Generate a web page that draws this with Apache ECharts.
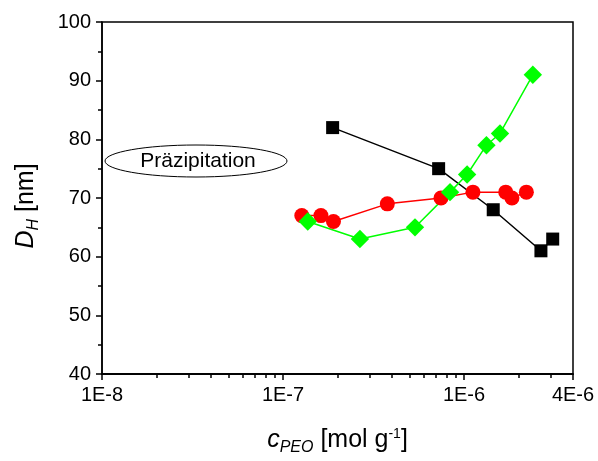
<!DOCTYPE html>
<html>
<head>
<meta charset="utf-8">
<script src="https://cdn.jsdelivr.net/npm/echarts@6/dist/echarts.min.js"></script>
<style>html,body{margin:0;padding:0;background:#fff;}#c{width:598px;height:461px;}</style>
</head>
<body>
<div id="c"></div>
<script>
// Data
var blackX = [1.88e-7, 7.24e-7, 1.45e-6, 2.66e-6, 3.09e-6];
var blackY = [82, 75, 68, 61, 63];
var redX = [1.27e-7, 1.62e-7, 1.90e-7, 3.77e-7, 7.46e-7, 1.12e-6, 1.70e-6, 1.84e-6, 2.21e-6];
var redY = [67, 67, 66, 69, 70, 71, 71, 70, 71];
var greenX = [1.37e-7, 2.66e-7, 5.36e-7, 8.37e-7, 1.04e-6, 1.33e-6, 1.58e-6, 2.40e-6];
var greenY = [66, 63, 65, 71, 74, 79, 81, 91];
var xMajorTicks = [1e-8, 1e-7, 1e-6, 4e-6];
var xMinorTicks = [2e-8,3e-8,4e-8,5e-8,6e-8,7e-8,8e-8,9e-8,2e-7,3e-7,4e-7,5e-7,6e-7,7e-7,8e-7,9e-7,2e-6,3e-6];
var annotationText = 'Präzipitation';

function pairs(xs, ys){ return xs.map(function(x,i){ return [x, ys[i]]; }); }
function fmt(v){
  var e = Math.floor(Math.log10(v) + 1e-9);
  var m = Math.round(v / Math.pow(10, e));
  return m + 'E' + e;
}

var FONT = 'Liberation Sans, Arial, sans-serif';
var chart = echarts.init(document.getElementById('c'), null, {renderer: 'canvas'});
chart.setOption({
  animation: false,
  backgroundColor: '#fff',
  grid: {left: 102, top: 22, width: 471, height: 356, show: true, borderColor: '#000', borderWidth: 1.5, backgroundColor: 'transparent'},
  xAxis: [{
    type: 'log', logBase: 10, min: 1e-8, max: 4e-6,
    position: 'bottom',
    axisLine: {show: true, onZero: false, lineStyle: {color: '#000', width: 1.5}},
    axisTick: {show: true, inside: false, length: 6, lineStyle: {color: '#000', width: 1.5}, customValues: xMajorTicks},
    axisLabel: {show: true, color: '#000', fontSize: 20, fontFamily: FONT, margin: 11, formatter: fmt, customValues: xMajorTicks},
    splitLine: {show: false},
    minorTick: {show: false},
    name: '{i|c}{sub|PEO}{n| [mol g}{sup|-1}{n|]}',
    nameLocation: 'middle', nameGap: 50,
    nameTextStyle: {
      color: '#000', fontFamily: FONT,
      rich: {
        i: {fontSize: 25, fontStyle: 'italic', fontFamily: FONT, color: '#000'},
        sub: {fontSize: 16, fontStyle: 'italic', fontFamily: FONT, color: '#000', padding: [16, 0, 0, 0]},
        n: {fontSize: 25, fontFamily: FONT, color: '#000'},
        sup: {fontSize: 14, fontFamily: FONT, color: '#000', padding: [0, 0, 11, 0]}
      }
    }
  }, {
    type: 'log', logBase: 10, min: 1e-8, max: 4e-6,
    position: 'bottom', offset: 0,
    axisLine: {show: true, onZero: false, lineStyle: {color: '#000', width: 1.5}},
    axisTick: {show: true, inside: false, length: 4, lineStyle: {color: '#000', width: 1.5}, customValues: xMinorTicks},
    axisLabel: {show: false},
    splitLine: {show: false}
  }],
  yAxis: {
    type: 'value', min: 40, max: 100, interval: 10,
    axisLine: {show: true, onZero: false, lineStyle: {color: '#000', width: 1.5}},
    axisTick: {show: true, inside: false, length: 6, lineStyle: {color: '#000', width: 1.5}},
    minorTick: {show: true, splitNumber: 2, length: 4, lineStyle: {color: '#000', width: 1.5}},
    axisLabel: {color: '#000', fontSize: 20, fontFamily: FONT, margin: 11},
    splitLine: {show: false},
    name: '{i|D}{sub|H}{n| [nm]}',
    nameLocation: 'middle', nameGap: 60, nameRotate: 90,
    nameTextStyle: {
      color: '#000', fontFamily: FONT,
      padding: [0, 16, 0, 0],
      rich: {
        i: {fontSize: 25, fontStyle: 'italic', fontFamily: FONT, color: '#000'},
        sub: {fontSize: 16, fontStyle: 'italic', fontFamily: FONT, color: '#000', padding: [16, 0, 0, 0]},
        n: {fontSize: 25, fontFamily: FONT, color: '#000'}
      }
    }
  },
  series: [{
    type: 'line', data: pairs(blackX, blackY), xAxisIndex: 0,
    symbol: 'rect', symbolSize: 13,
    lineStyle: {color: '#000', width: 1.5},
    itemStyle: {color: '#000'}
  }, {
    type: 'line', data: pairs(redX, redY), xAxisIndex: 0,
    symbol: 'circle', symbolSize: 15,
    lineStyle: {color: '#ff0000', width: 1.5},
    itemStyle: {color: '#ff0000'}
  }, {
    type: 'line', data: pairs(greenX, greenY), xAxisIndex: 0,
    symbol: 'rect', symbolRotate: 45, symbolSize: 13,
    lineStyle: {color: '#00ff00', width: 1.5},
    itemStyle: {color: '#00ff00'}
  }],
  graphic: [{
    type: 'ellipse',
    shape: {cx: 196, cy: 161, rx: 91, ry: 16},
    style: {fill: '#fff', stroke: '#000', lineWidth: 1}
  }, {
    type: 'text',
    x: 198, y: 161,
    style: {text: annotationText, fontSize: 21, fontFamily: FONT, fill: '#000', align: 'center', verticalAlign: 'middle'}
  }]
});
</script>
</body>
</html>
